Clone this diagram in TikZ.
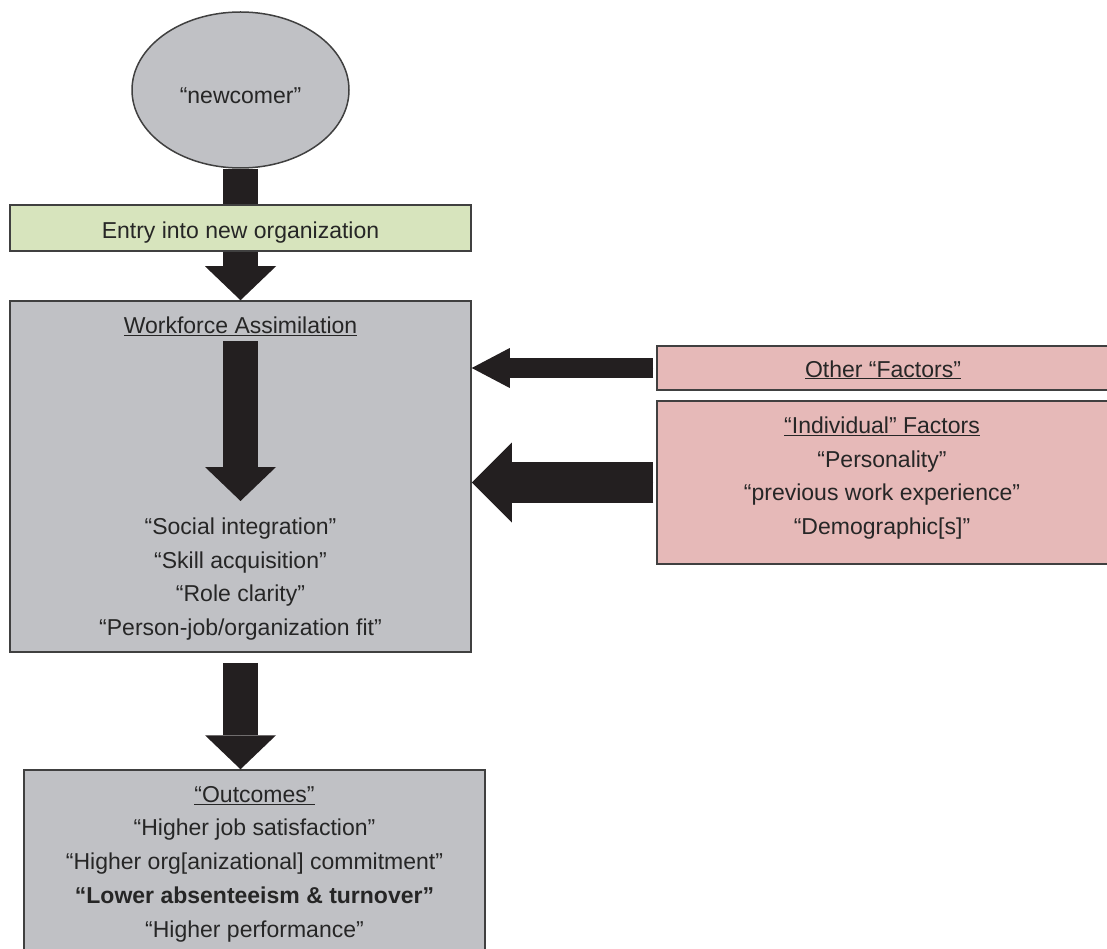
\documentclass[tikz,border=0pt]{standalone}
\usepackage{fontspec}
\setmainfont{Liberation Sans}
\usetikzlibrary{arrows.meta,shapes.geometric}

\definecolor{boxgray}{HTML}{C0C1C5}
\definecolor{entrygreen}{HTML}{D7E4BD}
\definecolor{factorpink}{HTML}{E6B9B8}
\definecolor{edgegray}{HTML}{404040}
\definecolor{arrowblack}{HTML}{231F20}
\definecolor{inkgray}{HTML}{262626}

% lower a single-line label inside its box without changing the box size
\newcommand{\lowered}[2]{\raisebox{-#1}[0pt][0pt]{#2}}

\begin{document}
\begin{tikzpicture}[x=1pt, y=-1pt,
  every node/.style={text=inkgray, inner sep=0pt, font=\fontsize{23}{33.7}\selectfont},
  panel/.style={draw=edgegray, line width=1.5pt, rectangle},
  listtext/.style={align=center},
  vfat/.style={draw=arrowblack, fill=arrowblack, line width=35pt,
    -{Triangle[width=71pt, length=34pt, line width=0pt]}},
  narrowfat/.style={draw=arrowblack, fill=arrowblack, line width=20pt,
    -{Triangle[width=40pt, length=38pt, line width=0pt]}},
  widefat/.style={draw=arrowblack, fill=arrowblack, line width=41pt,
    -{Triangle[width=80pt, length=40pt, line width=0pt]}}
]
\useasboundingbox (0,0) rectangle (1107,949);
\clip (0,0) rectangle (1107,949);

% newcomer and the assimilation stage
\node[ellipse, draw=edgegray, line width=1.5pt, fill=boxgray,
      minimum width=217pt, minimum height=156pt] (ell) at (240.5,90)
  {\lowered{14pt}{“newcomer”}};
\node[panel, fill=boxgray, minimum width=461pt, minimum height=351pt] (wf) at (240.5,476.5) {};

% entry arrow runs behind the green entry bar
\draw[vfat] (ell.south) -- (ell.south |- wf.north);
\node[panel, fill=entrygreen, minimum width=461pt, minimum height=46pt] (entry) at (240.5,228)
  {\lowered{10.5pt}{Entry into new organization}};

% inside the assimilation box
\node (wftitle) at (240.5,326) {\underline{Workforce Assimilation}};
\coordinate (flowtop) at (240.5,341);
\coordinate (flowtip) at (240.5,501);
\draw[vfat] (flowtop) -- (flowtip);
\node[listtext] (wflist) at (240.5,579)
  {“Social integration”\\“Skill acquisition”\\“Role clarity”\\“Person-job/organization fit”};

% factors on the right
\node[panel, fill=factorpink, minimum width=452pt, minimum height=44pt] (other) at (883,368)
  {\lowered{9pt}{\underline{Other “Factors”}}};
\node[panel, fill=factorpink, minimum width=452pt, minimum height=163pt] (ind) at (883,482.5) {};
\node[listtext] (indlist) at (882,478)
  {\underline{“Individual” Factors}\\“Personality”\\“previous work experience”\\“Demographic[s]”};
\draw[narrowfat, shorten <=3pt] (other.west) -- (other.west -| wf.east);
\draw[widefat, shorten <=3pt] (ind.west) -- (ind.west -| wf.east);

% outcomes
\node[panel, fill=boxgray, minimum width=461pt, minimum height=220pt] (out) at (254.5,880) {};
\node[listtext] (outlist) at (254.5,864)
  {\underline{“Outcomes”}\\“Higher job satisfaction”\\“Higher org[anizational] commitment”\\
   \textbf{“Lower absenteeism \& turnover”}\\“Higher performance”};
\draw[vfat, shorten <=10pt] (wf.south) -- (wf.south |- out.north);
\end{tikzpicture}
\end{document}
